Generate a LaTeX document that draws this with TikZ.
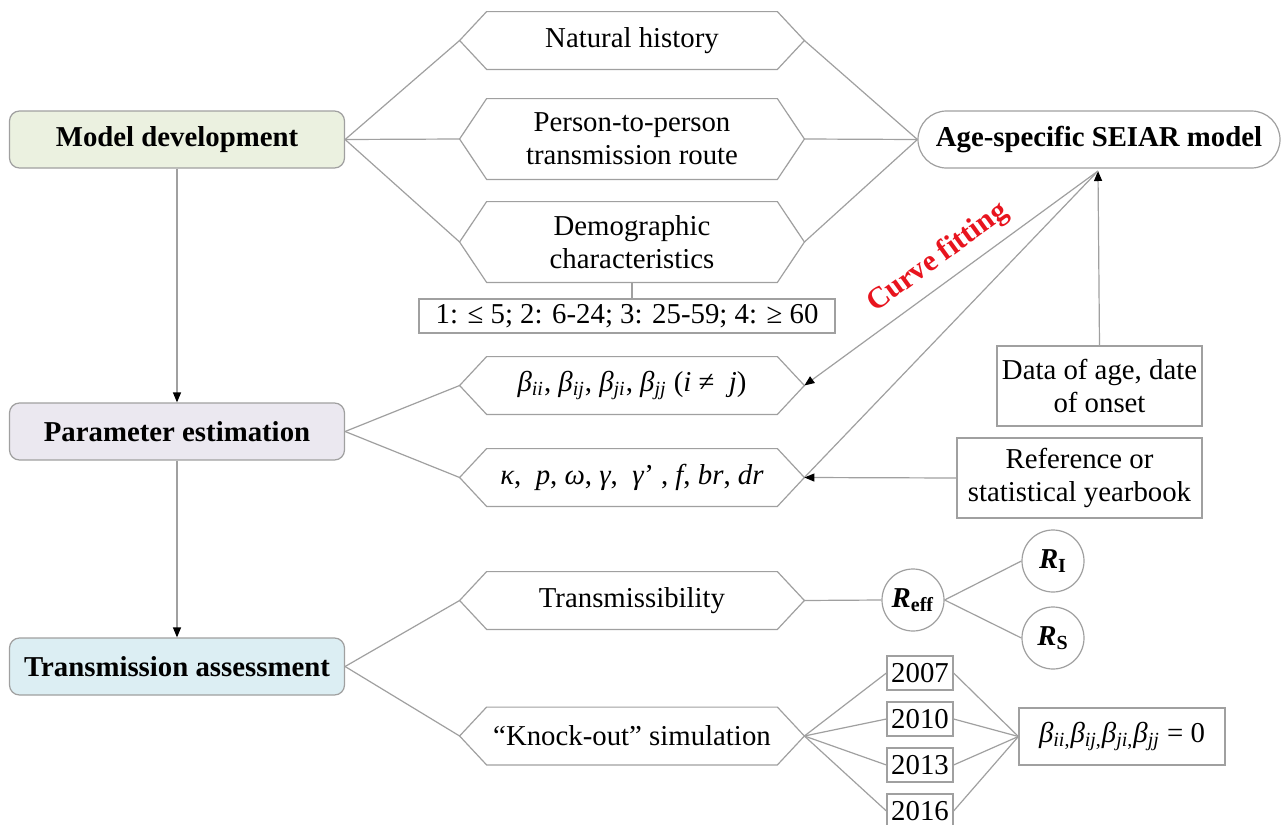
\documentclass[tikz,border=0pt]{standalone}
\usepackage{fontspec}
\setmainfont{Liberation Serif}
\usetikzlibrary{arrows.meta}

\definecolor{linegray}{HTML}{A0A0A0}
\definecolor{mdgreen}{HTML}{EBF1E0}
\definecolor{pelilac}{HTML}{EBE8F0}
\definecolor{tablue}{HTML}{DCEEF3}
\definecolor{fitred}{HTML}{E8141E}

\newcommand\bodyfont{\fontsize{14.4pt}{16.5pt}\selectfont}
\newcommand\isub[1]{\textsubscript{\textit{#1}}}
% hexagon outline round a (not drawn) node, with its two points
\newcommand\hexa[1]{%
	\coordinate (#1-l) at ([xshift=-13.5pt]#1.west);
	\coordinate (#1-r) at ([xshift=13.5pt]#1.east);
	\draw[link] (#1-l) -- (#1.north west) -- (#1.north east) -- (#1-r)
		-- (#1.south east) -- (#1.south west) -- cycle;}

\tikzset{
	link/.style={draw=linegray, line width=0.6pt},
	arrow/.style={link, -{Triangle[length=5pt, width=4pt, color=black]}},
	stage/.style={draw=linegray, line width=0.6pt, rounded corners=5pt,
		minimum width=167.5pt, minimum height=28.5pt, font=\bodyfont\bfseries},
	hexnode/.style={minimum width=145pt, minimum height=28.5pt, inner sep=0pt, align=center},
	tallhex/.style={hexnode, minimum height=40pt},
	plainbox/.style={draw=linegray, line width=0.6pt, inner sep=0pt, align=center},
	circ/.style={circle, draw=linegray, line width=0.6pt, minimum size=31pt, inner sep=0pt},
}

\begin{document}
\begin{tikzpicture}[x=0.5pt, y=-0.5pt, font=\bodyfont]
	\useasboundingbox[fill=white] (0,0) rectangle (1287,825);

	% stages
	\node[stage, fill=mdgreen] (md) at (177,139.5) {Model development};
	\node[stage, fill=pelilac] (pe) at (177,431.5) {Parameter estimation};
	\node[stage, fill=tablue] (ta) at (177,666.5) {Transmission assessment};
	\draw[arrow] (md) -- (pe);
	\draw[arrow] (pe) -- (ta);

	% model development
	\node[hexnode] (nh) at (632,40.5) {Natural history};
	\node[tallhex] (pp) at (632,139) {Person-to-person\\transmission route};
	\node[tallhex] (dc) at (632,242) {Demographic\\characteristics};
	\node[plainbox, minimum width=208pt, minimum height=17pt] (ages) at (627,316)
		{1: ≤ 5; 2: 6-24; 3: 25-59; 4: ≥ 60};
	\node[draw=linegray, line width=0.6pt, rounded corners=14.25pt, minimum width=181pt,
		minimum height=28.5pt, font=\bodyfont\bfseries] (seiar) at (1099,139.5) {Age-specific SEIAR model};

	% parameter estimation
	\node[hexnode] (bt) at (632,385.5)
		{\textit{β}\isub{ii}, \textit{β}\isub{ij}, \textit{β}\isub{ji}, \textit{β}\isub{jj} (\textit{i} ≠\ \ \textit{j})};
	\node[hexnode] (kp) at (632,477.5)
		{\textit{κ},\ \ \textit{p}, \textit{ω}, \textit{γ},\ \ \textit{γ}’ , \textit{f}, \textit{br}, \textit{dr}};
	\node[plainbox, minimum width=102.5pt, minimum height=40pt] (data) at (1099.5,386)
		{Data of age, date\\of onset};
	\node[plainbox, minimum width=122.5pt, minimum height=40pt] (ref) at (1079.5,478)
		{Reference or\\statistical yearbook};
	\coordinate (fit) at (1098,171);

	% transmission assessment
	\node[hexnode] (tr) at (632,600.5) {Transmissibility};
	\node[hexnode] (ko) at (632,736) {“Knock-out” simulation};
	\node[circ] (Reff) at (913,600) {\textbf{\textit{R}}\textsubscript{\textbf{eff}}};
	\node[circ] (RI) at (1053,561) {\textbf{\textit{R}}\textsubscript{\textbf{I}}};
	\node[circ] (RS) at (1053,638) {\textbf{\textit{R}}\textsubscript{\textbf{S}}};
	\foreach \yr [count=\i] in {2007,2010,2013,2016}
		\node[plainbox, minimum width=33pt, minimum height=17pt] (y\i) at (920,{673+46*(\i-1)}) {\yr};
	\node[plainbox, minimum width=103pt, minimum height=28.5pt] (bz) at (1122,736.5)
		{\textit{β}\textsubscript{\textit{ii},}\textit{β}\textsubscript{\textit{ij},}\textit{β}\textsubscript{\textit{ji},}\textit{β}\textsubscript{\textit{jj}} = 0};

	\foreach \h in {nh,pp,dc,bt,kp,tr,ko} {
		\hexa{\h}
	}

	% connectors
	\foreach \h in {nh,pp,dc} {
		\draw[link] (md.east) -- (\h-l);
		\draw[link] (\h-r) -- (seiar.west);
	}
	\draw[link] (dc.south) -- (dc.south |- ages.north);
	\draw[link] (pe.east) -- (bt-l);
	\draw[link] (pe.east) -- (kp-l);
	\draw[arrow] (data.north) -- (fit);
	\draw[link] (kp-r) -- (fit);
	\draw[arrow] (fit) -- (bt-r);
	\draw[arrow] (ref.west) -- (kp-r);
	\node[font=\fontsize{15pt}{17pt}\selectfont\bfseries, text=fitred, rotate=36] (cf) at (938,258) {Curve fitting};

	\draw[link] (ta.east) -- (tr-l);
	\draw[link] (ta.east) -- (ko-l);
	\draw[link] (tr-r) -- (Reff.west);
	\draw[link] (Reff.east) -- (RI.west);
	\draw[link] (Reff.east) -- (RS.west);
	\foreach \i in {1,...,4} {
		\draw[link] (ko-r) -- (y\i.west);
		\draw[link] (y\i.east) -- (bz.west);
	}
\end{tikzpicture}
\end{document}
